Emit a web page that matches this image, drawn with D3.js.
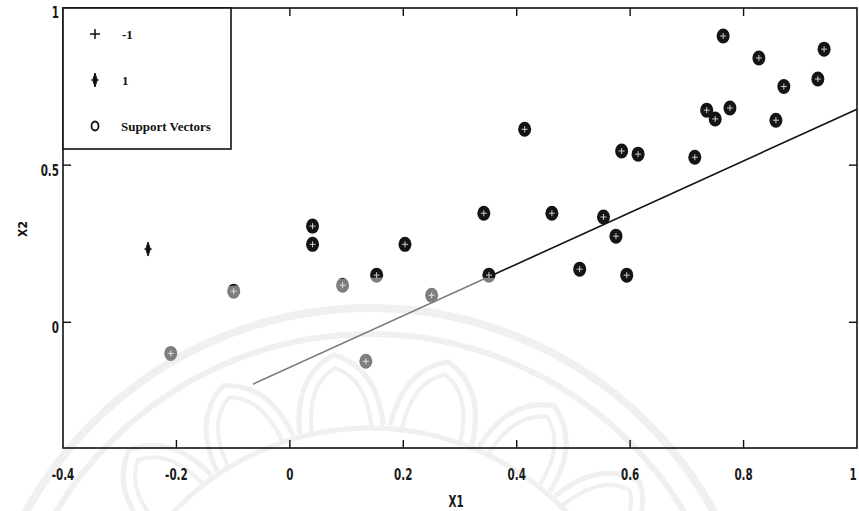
<!DOCTYPE html>
<html>
<head>
<meta charset="utf-8">
<script src="https://cdn.jsdelivr.net/npm/d3@7"></script>
<style>
  body { margin: 0; background: #fff; }
  svg { display: block; }
  .tick-label { font-family: "DejaVu Sans Condensed", "DejaVu Sans", sans-serif; font-size: 16px; font-weight: bold; fill: #1a1a1a; }
</style>
</head>
<body>
<svg id="chart"></svg>
<script>
const width = 859;
const height = 511;

// axis ticks
const xTicks = [-0.4, -0.2, 0, 0.2, 0.4, 0.6, 0.8, 1];
const xTickLabels = ['-0.4', '-0.2', '0', '0.2', '0.4', '0.6', '0.8', '1'];
const yTicks = [0, 0.5, 1];
const yTickLabels = ['0', '0.5', '1'];

// support vectors
const svX = [-0.21, -0.099, 0.04, 0.04, 0.093, 0.153, 0.203, 0.134, 0.25, 0.764, 0.827, 0.942, 0.931,
             0.871, 0.735, 0.776, 0.75, 0.857, 0.414, 0.585, 0.614, 0.714, 0.342, 0.462, 0.553,
             0.575, 0.511, 0.594, 0.351];
const svY = [-0.099, 0.099, 0.306, 0.248, 0.118, 0.15, 0.248, -0.124, 0.086, 0.911, 0.841, 0.869, 0.774,
             0.75, 0.675, 0.682, 0.647, 0.643, 0.614, 0.545, 0.535, 0.525, 0.347, 0.347, 0.335,
             0.274, 0.169, 0.15, 0.15];

// class 1 point that is not a support vector
const posX = [-0.25];
const posY = [0.233];

// separating line
const lineX = [-0.065, 1];
const lineY = [-0.197, 0.678];

const legendLabels = ['-1', '1', 'Support Vectors'];

const svg = d3.select('#chart')
            .attr('width', width)
            .attr('height', height);

const x = d3.scaleLinear().domain([-0.4, 1]).range([63, 857]);
const y = d3.scaleLinear().domain([-0.4, 1]).range([448, 8]);

// faint watermark (rings + lotus petals) behind the plot
const wm = svg.append('g')
    .attr('transform', 'translate(370,700)')
    .attr('fill', 'none')
    .attr('stroke', '#e3e3e3');
[[392, 8], [366, 6], [272, 5]].forEach(r => {
    wm.append('circle').attr('r', r[0]).attr('stroke-width', r[1]);
});
d3.range(-79, 80, 19).forEach(a => {
    const p = wm.append('g').attr('transform', `rotate(${a - 3})`);
    p.append('path')
        .attr('d', 'M-42,-272Q-42,-330 0,-347Q42,-330 42,-272')
        .attr('stroke-width', 5);
    p.append('path')
        .attr('d', 'M-30,-272Q-30,-320 0,-334Q30,-320 30,-272')
        .attr('stroke-width', 4);
});

const marks = svg.append('g');

marks.append('path')
    .datum(lineX.map((d, i) => [d, lineY[i]]))
    .attr('fill', 'none')
    .attr('stroke', '#111')
    .attr('stroke-width', 1.6)
    .attr('d', d3.line().x(d => x(d[0])).y(d => y(d[1])));

const sv = marks.selectAll('g.sv')
    .data(svX.map((d, i) => [d, svY[i]]))
    .enter()
    .append('g')
    .attr('class', 'sv')
    .attr('transform', d => `translate(${x(d[0])},${y(d[1])})`);

sv.append('ellipse')
    .attr('rx', 6.5).attr('ry', 7.5)
    .attr('fill', '#141414');

sv.append('path')
    .attr('d', 'M-3,0H3M0,-3V3')
    .attr('stroke', '#ccc')
    .attr('stroke-width', 1);

function posMarker(g) {
    g.append('path')
        .attr('d', 'M0,-7L2.2,0L0,7L-2.2,0Z M-4,0H4')
        .attr('fill', '#111')
        .attr('stroke', '#111')
        .attr('stroke-width', 1);
}

marks.selectAll('g.pos')
    .data(posX.map((d, i) => [d, posY[i]]))
    .enter()
    .append('g')
    .attr('class', 'pos')
    .attr('transform', d => `translate(${x(d[0])},${y(d[1])})`)
    .call(posMarker);

// watermark fades the marks in its lower area
marks.append('ellipse')
    .attr('cx', 430).attr('cy', 560)
    .attr('rx', 800).attr('ry', 283)
    .attr('fill', '#fff')
    .attr('opacity', 0.45);

// frame
svg.append('rect')
    .attr('x', x(-0.4)).attr('y', y(1))
    .attr('width', x(1) - x(-0.4))
    .attr('height', y(-0.4) - y(1))
    .attr('fill', 'none')
    .attr('stroke', '#111')
    .attr('stroke-width', 1.6);

// inward ticks on all four sides
const axes = svg.append('g').attr('stroke', '#111').attr('stroke-width', 1.4);
xTicks.slice(1, -1).forEach(t => {
    axes.append('line').attr('x1', x(t)).attr('x2', x(t)).attr('y1', y(-0.4)).attr('y2', y(-0.4) - 8);
    axes.append('line').attr('x1', x(t)).attr('x2', x(t)).attr('y1', y(1)).attr('y2', y(1) + 8);
});
yTicks.slice(0, -1).forEach(t => {
    axes.append('line').attr('x1', x(-0.4)).attr('x2', x(-0.4) + 8).attr('y1', y(t)).attr('y2', y(t));
    axes.append('line').attr('x1', x(1)).attr('x2', x(1) - 8).attr('y1', y(t)).attr('y2', y(t));
});

// the last label sits against the right edge, so keep it inside the page
svg.selectAll('text.xt')
    .data(xTicks)
    .enter()
    .append('text')
    .attr('class', 'tick-label xt')
    .attr('transform', d => `translate(${Math.min(x(d), 853)},480) scale(0.72,1)`)
    .attr('text-anchor', 'middle')
    .text((d, i) => xTickLabels[i]);

svg.selectAll('text.yt')
    .data(yTicks)
    .enter()
    .append('text')
    .attr('class', 'tick-label yt')
    .attr('transform', d => `translate(59,${y(d) + (d === 1 ? 10 : 11)}) scale(0.72,1)`)
    .attr('text-anchor', 'end')
    .text((d, i) => yTickLabels[i]);

svg.append('text')
    .attr('class', 'tick-label')
    .attr('transform', 'translate(456,507) scale(0.72,1)')
    .attr('text-anchor', 'middle')
    .text('X1');

svg.append('text')
    .attr('transform', 'translate(27,229) rotate(-90)')
    .attr('text-anchor', 'middle')
    .style('font-family', '"DejaVu Sans Condensed", sans-serif')
    .style('font-size', '12px')
    .style('font-weight', 'bold')
    .attr('fill', '#111')
    .text('X2');

// legend
const legend = svg.append('g');
legend.append('rect')
    .attr('x', x(-0.4)).attr('y', y(1))
    .attr('width', 168).attr('height', 141)
    .attr('fill', '#fff')
    .attr('stroke', '#111')
    .attr('stroke-width', 1.6);

const rowY = [34, 80, 126];
legend.append('path')
    .attr('d', `M90,${rowY[0]}H100M95,${rowY[0] - 5}V${rowY[0] + 5}`)
    .attr('stroke', '#111').attr('stroke-width', 1.5);
legend.append('g')
    .attr('transform', `translate(95,${rowY[1]})`)
    .call(posMarker);
legend.append('ellipse')
    .attr('cx', 95).attr('cy', rowY[2])
    .attr('rx', 3.5).attr('ry', 4.5)
    .attr('fill', 'none')
    .attr('stroke', '#111').attr('stroke-width', 1.8);

legend.selectAll('text')
    .data(legendLabels)
    .enter()
    .append('text')
    .attr('x', (d, i) => i === 2 ? 121 : 122)
    .attr('y', (d, i) => rowY[i] + 5)
    .style('font-family', '"Liberation Serif", serif')
    .style('font-size', '13px')
    .style('font-weight', 'bold')
    .attr('fill', '#111')
    .text(d => d);
</script>
</body>
</html>
